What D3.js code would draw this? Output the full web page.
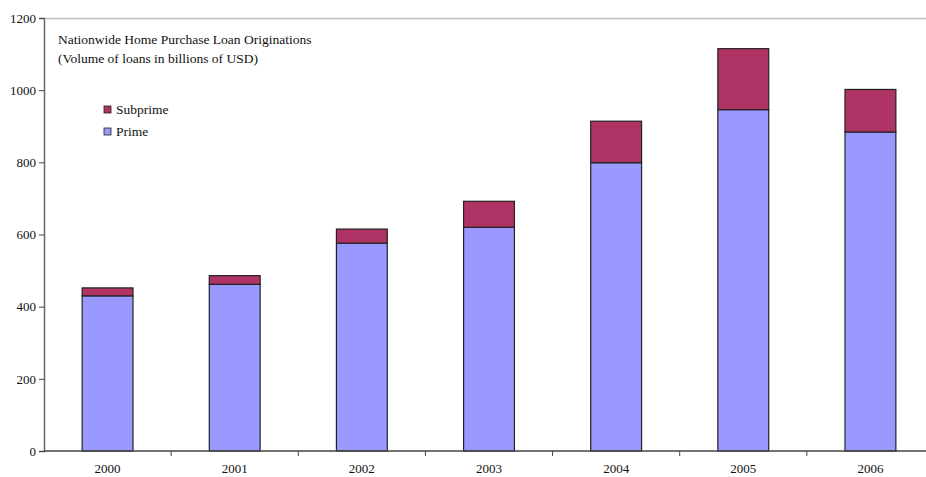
<!DOCTYPE html>
<html>
<head>
<meta charset="utf-8">
<script src="https://cdn.jsdelivr.net/npm/d3@7"></script>
<style>
  body { margin: 0; background: #fff; }
</style>
</head>
<body>
<svg id="viz" width="926" height="477"></svg>
<script>
const FONT = "'Liberation Serif', 'Times New Roman', serif";
const svg = d3.select("#viz").attr("font-family", FONT);
const width = +svg.attr("width");
const height = +svg.attr("height");
const margin = { top: 18, right: -8, bottom: 26, left: 44 };

// data
const years = ["2000", "2001", "2002", "2003", "2004", "2005", "2006"];
const prime = [430, 462, 576, 620, 799, 946, 884];
const subprime = [22, 24, 39, 72, 115, 169, 118];
const yTicks = [0, 200, 400, 600, 800, 1000, 1200];

const keys = ["Prime", "Subprime"];
const color = d3.scaleOrdinal().domain(keys).range(["#9999ff", "#b03366"]);

const rows = years.map((y, i) => ({ year: y, Prime: prime[i], Subprime: subprime[i] }));
const series = d3.stack().keys(keys)(rows);

const x = d3.scaleBand()
  .domain(years)
  .range([margin.left, width - margin.right])
  .paddingInner(0.6)
  .paddingOuter(0.3);

const y = d3.scaleLinear()
  .domain([0, 1200])
  .range([height - margin.bottom, margin.top]);

// top frame line
svg.append("line")
  .attr("x1", margin.left).attr("x2", width)
  .attr("y1", y(1200) + 0.5).attr("y2", y(1200) + 0.5)
  .attr("stroke", "#c0c0c0").attr("stroke-width", 1.5);

// bars
svg.append("g")
  .selectAll("g")
  .data(series)
  .join("g")
  .attr("fill", d => color(d.key))
  .selectAll("rect")
  .data(d => d)
  .join("rect")
  .attr("x", d => x(d.data.year))
  .attr("y", d => y(d[1]))
  .attr("width", x.bandwidth())
  .attr("height", d => y(d[0]) - y(d[1]))
  .attr("stroke", "#222")
  .attr("stroke-width", 1.2);

// y axis
const yAxis = svg.append("g")
  .attr("transform", `translate(${margin.left},0)`)
  .call(d3.axisLeft(y).tickValues(yTicks).tickFormat(d3.format("d")).tickSize(5).tickPadding(3))
  .attr("font-family", FONT);
yAxis.select(".domain").attr("stroke", "#666").attr("stroke-width", 1.5);
yAxis.selectAll(".tick line").attr("stroke", "#444");
yAxis.selectAll("text").attr("font-size", "13px").attr("fill", "#111");

// x axis with ticks at category boundaries
const xg = svg.append("g")
  .attr("transform", `translate(0,${y(0)})`);
xg.append("line")
  .attr("x1", margin.left).attr("x2", width)
  .attr("stroke", "#444").attr("stroke-width", 1.5);
const step = x.step();
xg.selectAll(".bound")
  .data(years.slice(1))
  .join("line")
  .attr("x1", d => x(d) - step * x.paddingInner() / 2)
  .attr("x2", d => x(d) - step * x.paddingInner() / 2)
  .attr("y1", 0).attr("y2", 5)
  .attr("stroke", "#444");
xg.selectAll(".lbl")
  .data(years)
  .join("text")
  .attr("x", d => x(d) + x.bandwidth() / 2)
  .attr("y", 22)
  .attr("text-anchor", "middle")
  .attr("font-size", "13px")
  .attr("fill", "#111")
  .text(d => d);

// title
svg.append("text").attr("x", 58).attr("y", 44).attr("font-size", "13.5px").attr("fill", "#111")
  .text("Nationwide Home Purchase Loan Originations");
svg.append("text").attr("x", 58).attr("y", 63).attr("font-size", "13.5px").attr("fill", "#111")
  .text("(Volume of loans in billions of USD)");

// legend
const legend = svg.append("g").attr("transform", "translate(104,106)");
["Subprime", "Prime"].forEach((k, i) => {
  const g = legend.append("g").attr("transform", `translate(0,${i * 22})`);
  g.append("rect").attr("width", 7).attr("height", 7)
    .attr("fill", color(k)).attr("stroke", "#222").attr("stroke-width", 0.8);
  g.append("text").attr("x", 12).attr("y", 8).attr("font-size", "13.5px").attr("fill", "#111").text(k);
});
</script>
</body>
</html>
